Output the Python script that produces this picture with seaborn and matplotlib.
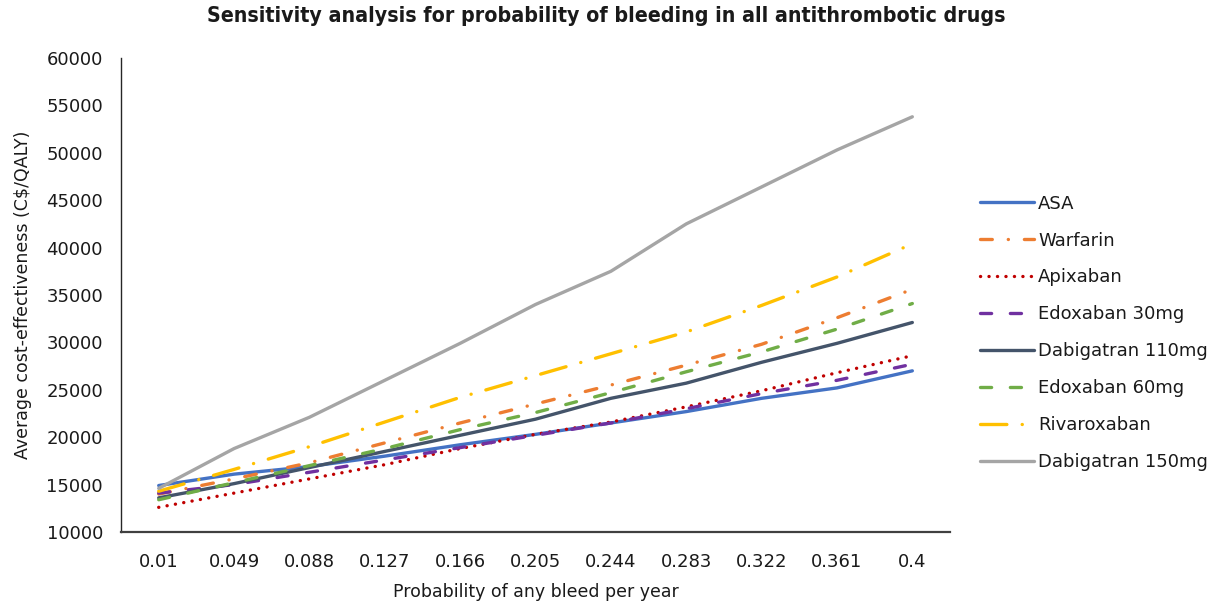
import matplotlib
matplotlib.use("Agg")
import matplotlib.pyplot as plt
import seaborn as sns
import pandas as pd

# ---- data ----
x_labels = ["0.01", "0.049", "0.088", "0.127", "0.166", "0.205", "0.244", "0.283", "0.322", "0.361", "0.4"]
asa = [14900, 16100, 16900, 18000, 19200, 20300, 21500, 22700, 24100, 25200, 27000]
warfarin = [14000, 15600, 17300, 19400, 21500, 23500, 25500, 27600, 29800, 32600, 35600]
apixaban = [12600, 14100, 15600, 17100, 18800, 20300, 21600, 23200, 24900, 26800, 28600]
edoxaban30 = [14100, 15000, 16300, 17600, 18900, 20200, 21500, 23000, 24600, 26000, 27700]
dabigatran110 = [13600, 15100, 16800, 18500, 20200, 21900, 24100, 25700, 27900, 29900, 32100]
edoxaban60 = [13400, 15200, 17000, 18800, 20800, 22600, 24700, 26900, 29000, 31400, 34100]
rivaroxaban = [14300, 16600, 19000, 21600, 24200, 26500, 28800, 31100, 33900, 36900, 40400]
dabigatran150 = [14600, 18800, 22100, 26000, 29900, 34000, 37500, 42500, 46400, 50300, 53800]

series_names = ["ASA", "Warfarin", "Apixaban", "Edoxaban 30mg", "Dabigatran 110mg",
                "Edoxaban 60mg", "Rivaroxaban", "Dabigatran 150mg"]
series_values = [asa, warfarin, apixaban, edoxaban30, dabigatran110,
                 edoxaban60, rivaroxaban, dabigatran150]

colors = ["#4472C4", "#ED7D31", "#C00000", "#7030A0", "#44546A", "#70AD47", "#FFC000", "#A5A5A5"]
dash_styles = ["", (8.5, 11.5, 0.1, 11.5), (0.1, 6.0), (8.0, 13.5), "",
               (8.0, 13.5), (19.0, 11.0, 0.1, 11.0), ""]

rows = []
for name, vals in zip(series_names, series_values):
    for i, v in enumerate(vals):
        rows.append({"idx": i, "value": v, "series": name})
df = pd.DataFrame(rows)

sns.set_theme(style="white")
plt.rcParams["font.family"] = ["DejaVu Sans"]
plt.rcParams["lines.scale_dashes"] = False

fig = plt.figure(figsize=(12.2, 6.05), dpi=100)
ax = fig.add_axes([0.0992, 0.1207, 0.6795, 0.7834])

sns.lineplot(data=df, x="idx", y="value", hue="series", style="series",
             hue_order=series_names, style_order=series_names,
             palette=dict(zip(series_names, colors)),
             dashes=dict(zip(series_names, dash_styles)),
             linewidth=2.4, legend=False, ax=ax,
             dash_capstyle="round", solid_capstyle="round")

ax.set_xlim(-0.5, len(x_labels) - 0.5)
ax.set_ylim(10000, 60000)
ax.set_xticks(range(len(x_labels)))
ax.set_xticklabels(x_labels)
ax.set_yticks(range(10000, 60001, 5000))
ax.set_yticklabels([str(v) for v in range(10000, 60001, 5000)])
ax.tick_params(axis="both", length=0, labelsize=13, colors="#1a1a1a")
ax.tick_params(axis="y", pad=13)
ax.tick_params(axis="x", pad=15)

for s in ["top", "right"]:
    ax.spines[s].set_visible(False)
ax.spines["left"].set_color("#262626")
ax.spines["left"].set_linewidth(1.0)
ax.spines["bottom"].set_color("#404040")
ax.spines["bottom"].set_linewidth(1.6)

ax.set_xlabel("Probability of any bleed per year", fontsize=12.5, color="#1a1a1a", labelpad=9)
ax.set_ylabel("Average cost-effectiveness (C$/QALY)", fontsize=12.5, color="#1a1a1a", labelpad=10)

fig.suptitle("Sensitivity analysis for probability of bleeding in all antithrombotic drugs",
             x=0.497, y=0.99, fontsize=15.3, fontweight="bold", fontstretch="condensed",
             family=["DejaVu Sans"], color="#1a1a1a")

handles = ax.get_lines()[:len(series_names)]
leg = ax.legend(handles=handles, labels=series_names, loc="center left",
                bbox_to_anchor=(1.027, 0.42), frameon=False, fontsize=13,
                handlelength=3.0, handletextpad=0.25, labelspacing=1.05,
                borderaxespad=0)
for t in leg.get_texts():
    t.set_color("#1a1a1a")

fig.savefig("out.png", dpi=100)
